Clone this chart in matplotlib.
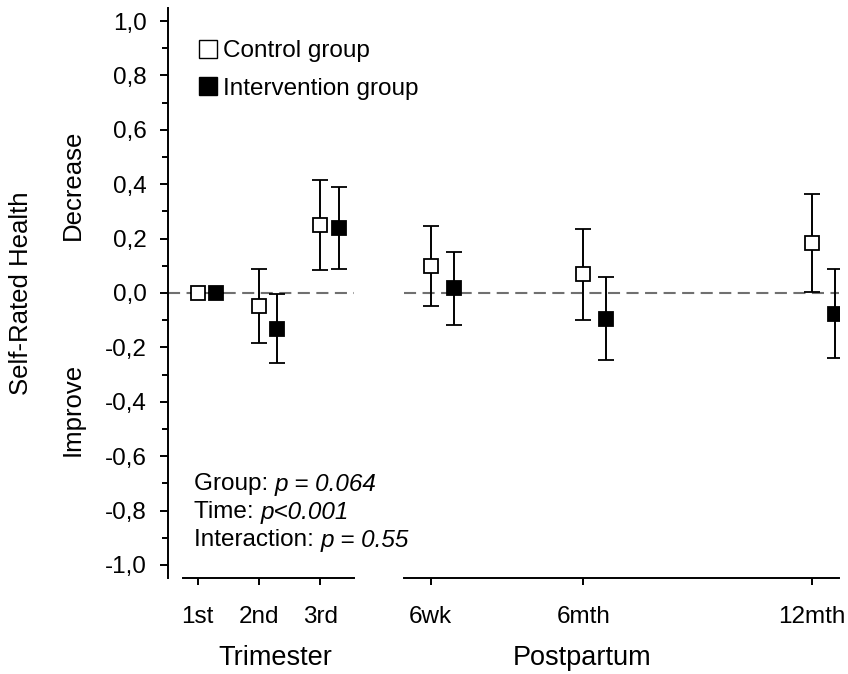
import numpy as np
import matplotlib.pyplot as plt
from matplotlib.lines import Line2D
from matplotlib.ticker import MultipleLocator, FuncFormatter

plt.rcParams['font.family'] = ['Liberation Sans', 'DejaVu Sans']

# ---- data ----
tri_labels = ['1st', '2nd', '3rd']
tri_x = [1, 2, 3]
tri_ctrl = [0.000, -0.048, 0.249]
tri_ctrl_lo = [0.000, -0.183, 0.085]
tri_ctrl_hi = [0.000, 0.089, 0.415]
tri_int = [0.000, -0.134, 0.238]
tri_int_lo = [0.000, -0.257, 0.089]
tri_int_hi = [0.000, -0.004, 0.391]

pp_labels = ['6wk', '6mth', '12mth']
pp_x = [2, 6, 12]
pp_ctrl = [0.100, 0.070, 0.184]
pp_ctrl_lo = [-0.048, -0.099, 0.004]
pp_ctrl_hi = [0.247, 0.236, 0.364]
pp_int = [0.017, -0.096, -0.077]
pp_int_lo = [-0.116, -0.247, -0.239]
pp_int_hi = [0.150, 0.059, 0.088]

stat_names = ['Group: ', 'Time: ', 'Interaction: ']
stat_values = ['p = 0.064', 'p<0.001', 'p = 0.55']

W, H = 848, 674
fig = plt.figure(figsize=(W / 100, H / 100), dpi=100)

ybot, ytop = 578, 8
ax1 = fig.add_axes([168 / W, 1 - ybot / H, (354 - 168) / W, (ybot - ytop) / H])
ax2 = fig.add_axes([404 / W, 1 - ybot / H, (839 - 404) / W, (ybot - ytop) / H])

lw = 1.4
msize = 10.5


def draw_group(ax, x, y, lo, hi, off, face):
    x = np.asarray(x, dtype=float) + off
    y = np.asarray(y)
    err = [y - np.asarray(lo), np.asarray(hi) - y]
    ax.errorbar(x, y, yerr=err, fmt='s', ms=msize, mfc=face, mec='black',
                mew=1.3, ecolor='black', elinewidth=lw, capsize=5.5,
                capthick=lw, zorder=3)


for ax in (ax1, ax2):
    ax.set_ylim(-1.048, 1.048)
    ax.patch.set_visible(False)
    for s in ('top', 'right'):
        ax.spines[s].set_visible(False)
    ax.spines['bottom'].set_linewidth(lw)
    ax.tick_params(axis='x', direction='out', length=5, width=lw,
                   labelsize=17.5, pad=15)
    ax.axhline(0, color='#707070', lw=1.5, ls=(0, (5.8, 3.1)), zorder=1)

# trimester panel
ax1.set_xlim(0.516, 3.55)
ax1.spines['bottom'].set_bounds(0.76, 3.55)
ax1.spines['left'].set_linewidth(lw)
draw_group(ax1, tri_x, tri_ctrl, tri_ctrl_lo, tri_ctrl_hi, 0.0, 'white')
draw_group(ax1, tri_x, tri_int, tri_int_lo, tri_int_hi, 0.3, 'black')
ax1.set_xticks(tri_x)
ax1.set_xticklabels(tri_labels)
ax1.yaxis.set_major_locator(MultipleLocator(0.2))
ax1.yaxis.set_minor_locator(MultipleLocator(0.1))
ax1.yaxis.set_major_formatter(
    FuncFormatter(lambda v, p: f"{v:.1f}".replace('.', ',').replace('-0,0', '0,0')))
ax1.tick_params(axis='y', which='major', direction='out', length=6, width=lw,
                labelsize=17.5, pad=9.5)
ax1.tick_params(axis='y', which='minor', direction='out', length=4, width=lw)
ax1.set_xlabel('Trimester', fontsize=19.5)
ax1.xaxis.set_label_coords((275 - 168) / (354 - 168), -0.118)

# postpartum panel
ax2.set_xlim(1.30, 12.70)
ax2.spines['left'].set_visible(False)
ax2.set_yticks([])
draw_group(ax2, pp_x, pp_ctrl, pp_ctrl_lo, pp_ctrl_hi, 0.0, 'white')
draw_group(ax2, pp_x, pp_int, pp_int_lo, pp_int_hi, 0.6, 'black')
ax2.set_xticks(pp_x)
ax2.set_xticklabels(pp_labels)
ax2.set_xlabel('Postpartum', fontsize=19.5)
ax2.xaxis.set_label_coords((582 - 404) / (839 - 404), -0.118)

# legend
handles = [
    Line2D([], [], ls='none', marker='s', ms=13, mfc='white', mec='black', mew=1.0),
    Line2D([], [], ls='none', marker='s', ms=13, mfc='black', mec='black', mew=1.0),
]
fig.legend(handles, ['Control group', 'Intervention group'], loc='upper left',
           bbox_to_anchor=(199 / W, 1 - 40 / H), frameon=False, fontsize=17.5,
           handlelength=0.75, handletextpad=0.25, labelspacing=0.65,
           borderpad=0, borderaxespad=0)

# statistics
for i, (name, val) in enumerate(zip(stat_names, stat_values)):
    t = fig.text(194 / W, 1 - (484 + 28 * i) / H, name, fontsize=17.5, va='center')
    ann = ax1.annotate(val, xy=(1, 0.5), xycoords=t, va='center', ha='left',
                       fontsize=17.5, style='italic', annotation_clip=False)
    ann.set_clip_on(False)

# y-axis labels
fig.text(21 / W, 1 - 293 / H, 'Self-Rated Health', rotation=90, fontsize=18.5,
         ha='center', va='center')
fig.text(73 / W, 1 - 185 / H, 'Decrease', rotation=90, fontsize=18.5,
         ha='center', va='center')
fig.text(73 / W, 1 - 409 / H, 'Improve', rotation=90, fontsize=18.5,
         ha='center', va='center')

fig.savefig('out.png', dpi=100)
